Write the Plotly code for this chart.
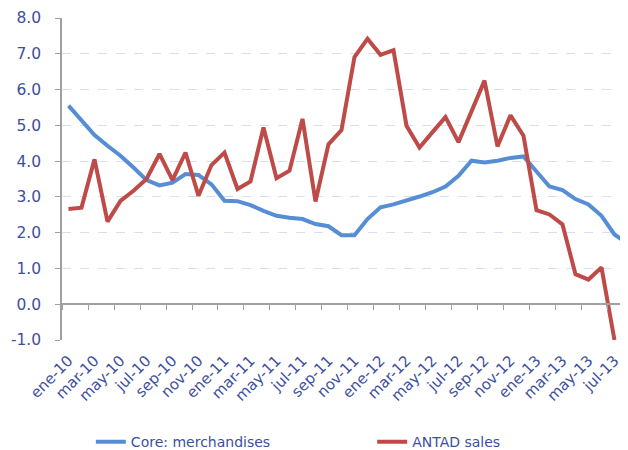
import plotly.graph_objects as go

months = ["ene", "feb", "mar", "abr", "may", "jun", "jul", "ago", "sep", "oct", "nov", "dic"]
categories = [f"{m}-{y}" for y in ["10", "11", "12", "13"] for m in months][:44]

core_merch = [5.55, 5.13, 4.73, 4.43, 4.15, 3.82, 3.47, 3.32, 3.40, 3.64,
              3.61, 3.35, 2.89, 2.88, 2.77, 2.61, 2.47, 2.42, 2.38, 2.24,
              2.18, 1.93, 1.93, 2.38, 2.71, 2.79, 2.89, 3.01, 3.13, 3.29,
              3.59, 4.01, 3.96, 4.01, 4.09, 4.13, 3.71, 3.29, 3.19, 2.94,
              2.79, 2.47, 1.95, 1.70]

antad_sales = [2.66, 2.70, 4.05, 2.31, 2.89, 3.17, 3.50, 4.20, 3.47, 4.24,
               3.03, 3.89, 4.24, 3.22, 3.43, 4.94, 3.52, 3.73, 5.18, 2.87,
               4.47, 4.87, 6.91, 7.42, 6.97, 7.10, 4.99, 4.38, 4.81, 5.23,
               4.53, 5.39, 6.25, 4.41, 5.28, 4.71, 2.63, 2.51, 2.23, 0.84,
               0.69, 1.03, -1.00]

tick_labels = categories[::2][:22]
y_ticks = [-1, 0, 1, 2, 3, 4, 5, 6, 7, 8]
y_tick_text = [f"{v:.1f}" for v in y_ticks]

x_idx = list(range(len(categories)))
label_pos = x_idx[::2][:22]
boundary_pos = [p - 0.5 for p in label_pos]

BLUE = "#558ED5"
RED = "#BE4B48"
TXT = "#3D4FA0"
AXIS = "#A0A0A0"
GRID = "#D5DFF0"
FONT = "DejaVu Sans"
XR = [-0.5, 43.04]

fig = go.Figure()
fig.add_trace(go.Scatter(x=x_idx[:len(core_merch)], y=core_merch, mode="lines",
                         name="Core: merchandises", legend="legend",
                         line=dict(color=BLUE, width=4)))
fig.add_trace(go.Scatter(x=x_idx[:len(antad_sales)], y=antad_sales, mode="lines",
                         name="ANTAD sales", legend="legend2",
                         line=dict(color=RED, width=4)))

leg_common = dict(orientation="h", xanchor="left", y=-0.317, yanchor="middle",
                  font=dict(family=FONT, size=14, color=TXT),
                  bgcolor="rgba(0,0,0,0)")

fig.update_layout(
    width=620, height=460,
    margin=dict(l=54, r=0, t=10, b=128),
    plot_bgcolor="white", paper_bgcolor="white",
    font=dict(family=FONT, size=14, color=TXT),
    showlegend=True,
    legend=dict(x=0.051, **leg_common),
    legend2=dict(x=0.548, **leg_common),
    xaxis=dict(range=XR, tickmode="array", tickvals=label_pos, ticktext=tick_labels,
               tickangle=-45, showgrid=False, zeroline=False, showline=False,
               ticks="", automargin=False, ticklabelstandoff=8,
               tickfont=dict(family=FONT, size=15, color=TXT)),
    xaxis2=dict(range=XR, overlaying="x", anchor="free", position=1/9,
                side="bottom", tickmode="array", tickvals=boundary_pos,
                showticklabels=False, ticks="outside", ticklen=5, tickcolor=AXIS,
                showline=True, linecolor=AXIS, linewidth=1.5, showgrid=False,
                zeroline=False),
    yaxis=dict(range=[-1, 8], tickmode="array", tickvals=y_ticks, ticktext=y_tick_text,
               showgrid=True, gridcolor=GRID, griddash="dash", gridwidth=1,
               zeroline=False, showline=True, linecolor=AXIS, linewidth=1.5,
               ticks="outside", ticklen=5, tickcolor=AXIS, automargin=False,
               ticklabelstandoff=11,
               tickfont=dict(family=FONT, size=15.5, color=TXT)),
)

# invisible trace to attach xaxis2
fig.add_trace(go.Scatter(x=[XR[0]], y=[0], xaxis="x2", mode="markers",
                         marker=dict(opacity=0), showlegend=False, hoverinfo="skip"))

fig.write_html("out.html")
